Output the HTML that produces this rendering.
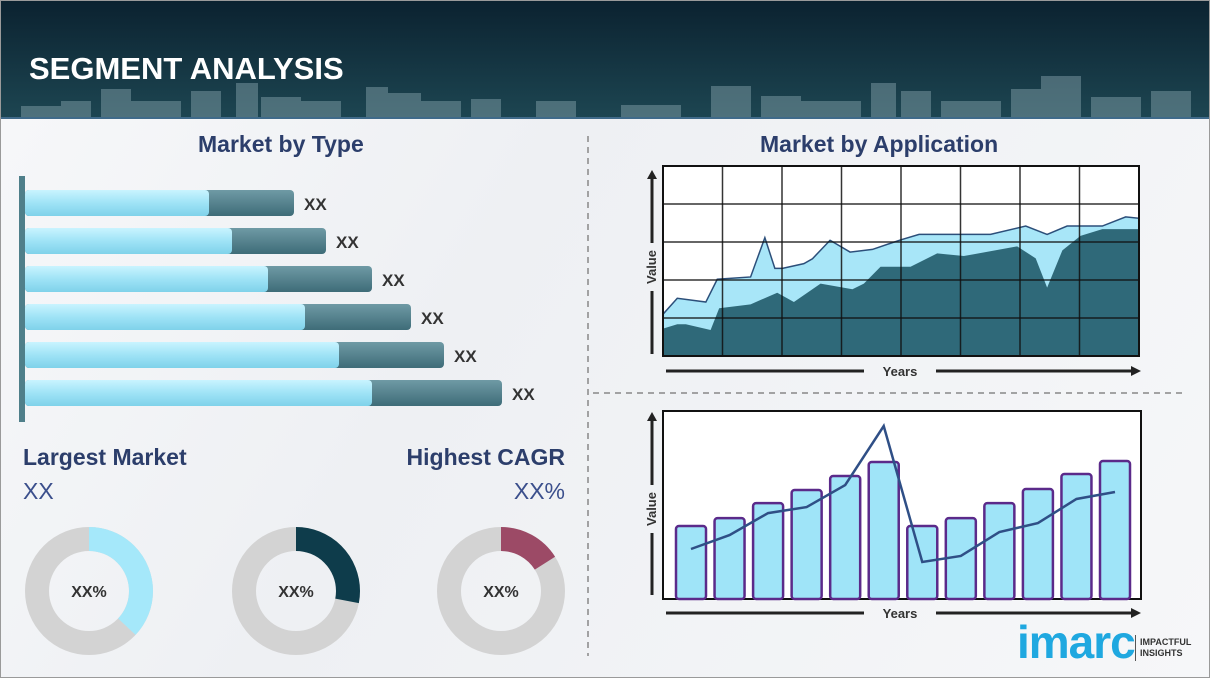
<!DOCTYPE html>
<html><head><meta charset="utf-8"><style>
body{margin:0;width:1210px;height:678px;overflow:hidden;font-family:"Liberation Sans",sans-serif;background:#fff}
#wrap{position:absolute;left:0;top:0;width:1208px;height:676px;border:1px solid #9a9a9a;background:linear-gradient(120deg,#f7f8fa 0%,#eef0f3 40%,#f6f7f9 100%);overflow:hidden}
.t{position:absolute;font-weight:bold;color:#2c3e6b;font-size:23px;white-space:nowrap}
</style></head><body>
<div id="wrap">
<svg width="1210" height="678" style="position:absolute;left:0;top:0">
<defs>
<linearGradient id="hdr" x1="0" y1="0" x2="0" y2="1"><stop offset="0" stop-color="#0b2230"/><stop offset="1" stop-color="#1d4652"/></linearGradient>
<linearGradient id="lb" x1="0" y1="0" x2="0" y2="1"><stop offset="0" stop-color="#c9f4ff"/><stop offset="0.5" stop-color="#9fe3f6"/><stop offset="1" stop-color="#7fd2ea"/></linearGradient>
<linearGradient id="db" x1="0" y1="0" x2="0" y2="1"><stop offset="0" stop-color="#6f9aa5"/><stop offset="1" stop-color="#3e6c78"/></linearGradient>
</defs>
<rect x="0" y="0" width="1210" height="118" fill="url(#hdr)"/>
<g fill="#8aa7b0" opacity="0.45">
<rect x="20" y="105" width="50" height="13"/><rect x="60" y="100" width="30" height="18"/><rect x="100" y="88" width="30" height="30"/><rect x="130" y="100" width="50" height="18"/><rect x="190" y="90" width="30" height="28"/><rect x="235" y="82" width="22" height="36"/><rect x="260" y="96" width="40" height="22"/><rect x="300" y="100" width="40" height="18"/><rect x="365" y="86" width="22" height="32"/><rect x="385" y="92" width="35" height="26"/><rect x="420" y="100" width="40" height="18"/><rect x="470" y="98" width="30" height="20"/><rect x="535" y="100" width="40" height="18"/><rect x="620" y="104" width="60" height="14"/><rect x="710" y="85" width="40" height="33"/><rect x="760" y="95" width="40" height="23"/><rect x="800" y="100" width="60" height="18"/><rect x="870" y="82" width="25" height="36"/><rect x="900" y="90" width="30" height="28"/><rect x="940" y="100" width="60" height="18"/><rect x="1010" y="88" width="30" height="30"/><rect x="1040" y="75" width="40" height="43"/><rect x="1090" y="96" width="50" height="22"/><rect x="1150" y="90" width="40" height="28"/>
</g>
<rect x="0" y="116" width="1210" height="2" fill="#3f6a8a"/>
<line x1="587" y1="135" x2="587" y2="655" stroke="#888" stroke-width="1.5" stroke-dasharray="6,5"/>
<line x1="592" y1="392" x2="1186" y2="392" stroke="#888" stroke-width="1.5" stroke-dasharray="6,5"/>
<g id="hbars"></g>
<g id="donuts"></g>
<g id="area"></g>
<g id="bars"></g>
</svg>
<div class="t" style="left:28px;top:50px;color:#fff;font-size:31px">SEGMENT ANALYSIS</div>
<div class="t" style="left:197px;top:130px">Market by Type</div>
<div class="t" style="left:759px;top:130px">Market by Application</div>
<div class="t" style="left:22px;top:443px">Largest Market</div>
<div class="t" style="left:22px;top:477px;font-weight:normal;color:#3b4f8c">XX</div>
<div class="t" style="right:644px;top:443px">Highest CAGR</div>
<div class="t" style="right:644px;top:477px;font-weight:normal;color:#3b4f8c">XX%</div>
<div style="position:absolute;left:1016px;top:614px;font-size:46px;font-weight:bold;color:#1fa8e0;letter-spacing:-1px">imarc</div>
<div style="position:absolute;left:1134px;top:634px;width:1px;height:26px;background:#555"></div>
<div style="position:absolute;left:1139px;top:636px;font-size:9px;font-weight:bold;color:#333;line-height:11px">IMPACTFUL<br>INSIGHTS</div>
</div>
<script>
const NS='http://www.w3.org/2000/svg';
function mk(p,t,a){const e=document.createElementNS(NS,t);for(const k in a)e.setAttribute(k,a[k]);p.appendChild(e);return e;}
// horizontal bars
const typeLight=[208,231,267,304,338,371];
const typeTotal=[293,325,371,410,443,501];
const typeLabels=['XX','XX','XX','XX','XX','XX'];
const hb=document.getElementById('hbars');
const hx=v=>24+(v-24);
mk(hb,'rect',{x:18,y:175,width:6,height:246,fill:'#4f7f8a'});
typeTotal.forEach((v,i)=>{const cy=202+i*38;
 let r=mk(hb,'rect',{x:24,y:cy-13,width:hx(v)-24,height:26,rx:4,fill:'url(#db)'});
 
 r=mk(hb,'rect',{x:24,y:cy-13,width:hx(typeLight[i])-24,height:26,rx:4,fill:'url(#lb)'});
 
 const t=mk(hb,'text',{x:hx(v)+10,y:cy+7,'font-size':17,'font-weight':'bold',fill:'#333'});t.textContent=typeLabels[i];
 
});
// donuts
const donutShare=[37,28,16];
const donutColors=['#a5e8fa','#0e3c4b','#9c4a66'];
const dg=document.getElementById('donuts');
donutShare.forEach((p,i)=>{const cx=[88,295,500][i],cy=590,r=52;
 let c=mk(dg,'circle',{cx,cy,r,fill:'none',stroke:'#d3d3d3','stroke-width':24});
 
 const L=2*Math.PI*r;
 c=mk(dg,'circle',{cx,cy,r,fill:'none',stroke:donutColors[i],'stroke-width':24,'stroke-dasharray':(p/100*L)+' '+L,transform:`rotate(-90 ${cx} ${cy})`});
 
 const t=mk(dg,'text',{x:cx,y:cy+6,'text-anchor':'middle','font-size':16,'font-weight':'bold',fill:'#333'});t.textContent='XX%';
 
});
// area chart
const areaX=[0,3,9,11.4,18.4,21.4,23.5,25.1,29.6,31.4,35.1,39.3,44,49.9,53.8,68.8,76.2,80.7,84.9,92.3,97.2,100];
const areaTop=[22,30.4,28.4,40.4,41.6,62.3,46.1,46.1,48.6,51.2,60.9,54.7,56.1,61.1,64,64,68.4,64,68.4,68.4,73.2,72.5];
const areaX2=[0,3,4.8,10,11.8,18.4,24,27.5,33.1,39.8,42.2,45.7,52,57.6,63.2,74.4,78.3,80.7,83.9,87.7,92.3,100];
const areaBase=[14.4,16.7,16.7,13.7,25.1,27.2,33.3,28.4,38.1,35.1,38.1,47,47,54,52.6,57.7,51.4,36,55.6,63.2,66.8,66.8];
const ag=document.getElementById('area');
const ax0=662,ax1=1138,ay0=355,ay1=165;
const AX=v=>ax0+v/100*(ax1-ax0), AY=v=>ay0-v/100*(ay0-ay1);
mk(ag,'rect',{x:ax0,y:ay1,width:ax1-ax0,height:ay0-ay1,fill:'#fff'});
let d='M'+AX(0)+','+AY(0);areaX.forEach((x,i)=>d+=' L'+AX(x)+','+AY(areaTop[i]));d+=' L'+AX(100)+','+AY(0)+'Z';
let e=mk(ag,'path',{d,fill:'#a8e6f8',stroke:'#2c4f7a','stroke-width':1.5});

d='M'+AX(0)+','+AY(0);areaX2.forEach((x,i)=>d+=' L'+AX(x)+','+AY(areaBase[i]));d+=' L'+AX(100)+','+AY(0)+'Z';
e=mk(ag,'path',{d,fill:'#2f6979'});

for(let i=1;i<8;i++)mk(ag,'line',{x1:ax0+i*(ax1-ax0)/8,x2:ax0+i*(ax1-ax0)/8,y1:ay1,y2:ay0,stroke:'#111','stroke-opacity':0.85,'stroke-width':1.5});
for(let i=1;i<5;i++)mk(ag,'line',{x1:ax0,x2:ax1,y1:ay1+i*(ay0-ay1)/5,y2:ay1+i*(ay0-ay1)/5,stroke:'#111','stroke-opacity':0.85,'stroke-width':1.5});
mk(ag,'rect',{x:ax0,y:ay1,width:ax1-ax0,height:ay0-ay1,fill:'none',stroke:'#111','stroke-width':2});
function axes(g,y0,y1,ly,ty){
 mk(g,'line',{x1:651,x2:651,y1:ly-24,y2:y1,stroke:'#222','stroke-width':3});
 mk(g,'polygon',{points:`646,${y1} 656,${y1} 651,${y1-9}`,fill:'#222'});
 mk(g,'line',{x1:651,x2:651,y1:ly+24,y2:y0,stroke:'#222','stroke-width':3});
 let t=mk(g,'text',{x:0,y:0,'font-size':13,'font-weight':'bold',fill:'#333','text-anchor':'middle',transform:`translate(655,${ly}) rotate(-90)`});t.textContent='Value';
 
 mk(g,'line',{x1:665,x2:863,y1:ty,y2:ty,stroke:'#222','stroke-width':3});
 mk(g,'line',{x1:935,x2:1130,y1:ty,y2:ty,stroke:'#222','stroke-width':3});
 mk(g,'polygon',{points:`1130,${ty-5} 1130,${ty+5} 1140,${ty}`,fill:'#222'});
 t=mk(g,'text',{x:899,y:ty+5,'font-size':13,'font-weight':'bold',fill:'#333','text-anchor':'middle'});t.textContent='Years';
 
}
axes(ag,353,178,266,370);
// bar chart
const barValues=[38.8,43,51,58,65.4,72.9,38.8,43,51,58.5,66.5,73.4];
const lineValues=[26.6,34,45.7,48.9,60.6,92,19.7,22.9,35.6,40.4,53.2,56.9];
const bg=document.getElementById('bars');
const bx0=662,bx1=1140,by0=598,by1=410;
mk(bg,'rect',{x:bx0,y:by1,width:bx1-bx0,height:by0-by1,fill:'#fff',stroke:'#111','stroke-width':2});
const BX=i=>690+i*(1114-690)/11, BY=v=>by0-v/100*(by0-by1);
barValues.forEach((v,i)=>{const r=mk(bg,'rect',{x:BX(i)-15,y:BY(v),width:30,height:by0-BY(v),rx:3,fill:'#9fe4f8',stroke:'#5b2a8a','stroke-width':2.5});
 });
const pl=mk(bg,'polyline',{points:lineValues.map((v,i)=>BX(i)+','+BY(v)).join(' '),fill:'none',stroke:'#2f4f86','stroke-width':2.5});

axes(bg,594,420,508,612);
</script>
</body></html>
